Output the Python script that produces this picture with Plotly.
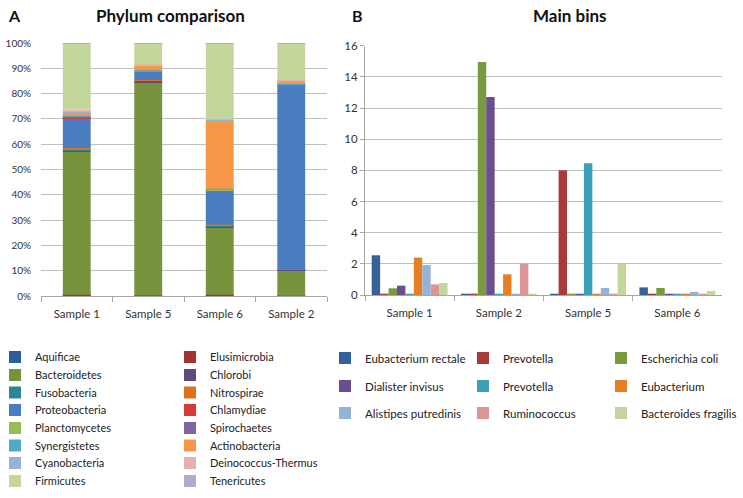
import numpy as np
import plotly.graph_objects as go

# ---------------- Panel A data (percent of reads) ----------------
samples_a = ["Sample 1", "Sample 5", "Sample 6", "Sample 2"]
phylum_names = ["Aquificae", "Elusimicrobia", "Bacteroidetes", "Chlorobi",
                "Fusobacteria", "Nitrospirae", "Proteobacteria", "Chlamydiae",
                "Planctomycetes", "Spirochaetes", "Synergistetes", "Actinobacteria",
                "Cyanobacteria", "Deinococcus-Thermus", "Firmicutes", "Tenericutes"]
aquificae = [0.1, 0.1, 0.1, 0.05]
elusimicrobia = [0.4, 0.1, 0.4, 0.05]
bacteroidetes = [56.5, 84.3, 26.4, 10.1]
chlorobi = [0.3, 0.5, 0.4, 0.1]
fusobacteria = [0.8, 0.2, 0.5, 0.1]
nitrospirae = [0.4, 0.2, 0.5, 0.1]
proteobacteria = [11.8, 3.3, 13.3, 72.9]
chlamydiae = [0.1, 0.0, 0.1, 0.05]
planctomycetes = [0.3, 0.1, 0.2, 0.1]
spirochaetes = [0.1, 0.1, 0.1, 0.05]
synergistetes = [0.4, 0.3, 0.4, 0.2]
actinobacteria = [1.3, 1.9, 26.6, 0.9]
cyanobacteria = [0.6, 0.2, 0.6, 0.4]
deinococcus = [0.5, 0.2, 0.4, 0.4]
firmicutes = [26.3, 8.4, 29.9, 14.4]
tenericutes = [0.1, 0.1, 0.1, 0.1]
phylum_values = [aquificae, elusimicrobia, bacteroidetes, chlorobi, fusobacteria,
                 nitrospirae, proteobacteria, chlamydiae, planctomycetes, spirochaetes,
                 synergistetes, actinobacteria, cyanobacteria, deinococcus, firmicutes,
                 tenericutes]
phylum_colors = ["#2F5D9A", "#A33232", "#77933C", "#5F4A7E", "#2E8494", "#E0701C",
                 "#4A7DC0", "#D8393B", "#9BBB59", "#8064A2", "#4BACC6", "#F79646",
                 "#95B3D7", "#E6B0B0", "#C3D69B", "#B3A9CC"]

# ---------------- Panel B data ----------------
samples_b = ["Sample 1", "Sample 2", "Sample 5", "Sample 6"]
bin_names = ["Eubacterium rectale", "Prevotella", "Escherichia coli",
             "Dialister invisus", "Prevotella", "Eubacterium",
             "Alistipes putredinis", "Ruminococcus", "Bacteroides fragilis"]
eubacterium_rectale = [2.55, 0.04, 0.04, 0.49]
prevotella_a = [0.04, 0.04, 8.0, 0.04]
escherichia_coli = [0.43, 14.95, 0.04, 0.45]
dialister_invisus = [0.6, 12.7, 0.04, 0.03]
prevotella_b = [0.04, 0.04, 8.45, 0.03]
eubacterium = [2.4, 1.33, 0.04, 0.04]
alistipes_putredinis = [1.92, 0.04, 0.45, 0.2]
ruminococcus = [0.68, 2.0, 0.04, 0.03]
bacteroides_fragilis = [0.77, 0.02, 1.99, 0.26]
bin_values = [eubacterium_rectale, prevotella_a, escherichia_coli, dialister_invisus,
              prevotella_b, eubacterium, alistipes_putredinis, ruminococcus,
              bacteroides_fragilis]
bin_colors = ["#36609A", "#A83A3A", "#7A9A3E", "#6A4E8E", "#3BA0B8", "#E67E22",
              "#95B3D7", "#D99694", "#C3D69B"]

W, H = 743, 498
FONT = "Lato, 'Open Sans', Arial, sans-serif"

fig = go.Figure()

# Panel A: stacked 100% bars (manual stacking via base, since barmode is global)
cum = np.zeros(len(samples_a))
for i, (name, vals, col) in enumerate(zip(phylum_names, phylum_values, phylum_colors)):
    vals = np.array(vals, dtype=float)
    fig.add_trace(go.Bar(
        x=samples_a, y=vals, base=cum.copy(), name=name,
        marker=dict(color=col, line=dict(width=0)),
        width=0.39, offset=-0.195,
        xaxis="x", yaxis="y",
        legend="legend" if i < 2 else f"legend{i // 2 + 1}",
    ))
    cum = cum + vals

# Panel B: grouped bars
for j, (name, vals, col) in enumerate(zip(bin_names, bin_values, bin_colors)):
    fig.add_trace(go.Bar(
        x=samples_b, y=vals, name=name,
        marker=dict(color=col, line=dict(width=0)),
        xaxis="x2", yaxis="y2",
        legend=f"legend{9 + j // 3}",
    ))

grid = "#BFBFBF"
axis_line = "#A6A6A6"

def px_x(p):
    return p / W

def px_y(p):
    return 1 - p / H

layout = dict(
    width=W, height=H,
    margin=dict(l=0, r=0, t=0, b=0, autoexpand=False),
    paper_bgcolor="white", plot_bgcolor="white",
    font=dict(family=FONT, size=11, color="#222222"),
    barmode="group", bargap=0.15, bargroupgap=0,
    xaxis=dict(domain=[px_x(41), px_x(327)], type="category",
               showgrid=False, showline=True, linecolor=axis_line, linewidth=1,
               ticks="outside", tickson="boundaries", ticklen=5, tickcolor=axis_line,
               ticklabelstandoff=7,
               tickfont=dict(size=11.5, color="#333333"), fixedrange=True,
               automargin=False),
    yaxis=dict(domain=[px_y(296), px_y(43)], range=[0, 100], dtick=10,
               ticksuffix="%", showgrid=True, gridcolor=grid, gridwidth=1,
               zeroline=False, showline=False, ticks="",
               ticklabelstandoff=9, automargin=False,
               tickfont=dict(size=10, color="#333333"), fixedrange=True),
    xaxis2=dict(domain=[px_x(365), px_x(722)], type="category", anchor="y2",
                showgrid=False, showline=True, linecolor=axis_line, linewidth=1,
                ticks="outside", tickson="boundaries", ticklen=5, tickcolor=axis_line,
                ticklabelstandoff=7,
                tickfont=dict(size=11.5, color="#333333"), fixedrange=True,
                automargin=False),
    yaxis2=dict(domain=[px_y(295), px_y(45.7)], range=[0, 16], dtick=2, anchor="x2",
                showgrid=True, gridcolor=grid, gridwidth=1, zeroline=False,
                showline=True, linecolor=axis_line, linewidth=1,
                ticks="outside", ticklen=4, tickcolor=axis_line, automargin=False,
                tickfont=dict(size=11.5, color="#333333"), fixedrange=True),
    showlegend=True,
)

# Legends: one horizontal legend per row
rows_a = [357, 375, 392.5, 410, 428, 445.5, 463, 481]
for r, yy in enumerate(rows_a):
    key = "legend" if r == 0 else f"legend{r + 1}"
    layout[key] = dict(orientation="h", x=px_x(-5), xanchor="left",
                       y=px_y(yy), yanchor="middle",
                       entrywidth=130, entrywidthmode="pixels",
                       itemwidth=30, font=dict(size=11, color="#222222"),
                       bgcolor="rgba(0,0,0,0)", traceorder="normal",
                       itemclick=False, itemdoubleclick=False)
rows_b = [358, 386, 413]
for r, yy in enumerate(rows_b):
    layout[f"legend{9 + r}"] = dict(orientation="h", x=px_x(325), xanchor="left",
                                    y=px_y(yy), yanchor="middle",
                                    entrywidth=93, entrywidthmode="pixels",
                                    itemwidth=30, font=dict(size=11.5, color="#222222"),
                                    bgcolor="rgba(0,0,0,0)", traceorder="normal",
                                    itemclick=False, itemdoubleclick=False)

layout["annotations"] = [
    dict(text="<b>Phylum comparison</b>", x=px_x(170), y=px_y(15), xref="paper", yref="paper",
         showarrow=False, font=dict(size=17, color="#111111"), xanchor="center", yanchor="middle"),
    dict(text="<b>Main bins</b>", x=px_x(570), y=px_y(15), xref="paper", yref="paper",
         showarrow=False, font=dict(size=17, color="#111111"), xanchor="center", yanchor="middle"),
    dict(text="<b>A</b>", x=px_x(14), y=px_y(15), xref="paper", yref="paper",
         showarrow=False, font=dict(size=16, color="#111111"), xanchor="center", yanchor="middle"),
    dict(text="<b>B</b>", x=px_x(357), y=px_y(15), xref="paper", yref="paper",
         showarrow=False, font=dict(size=16, color="#111111"), xanchor="center", yanchor="middle"),
]

fig.update_layout(**layout)
fig.write_html("out.html", config={"displayModeBar": False},
               post_script="document.body.style.margin='0px';")
